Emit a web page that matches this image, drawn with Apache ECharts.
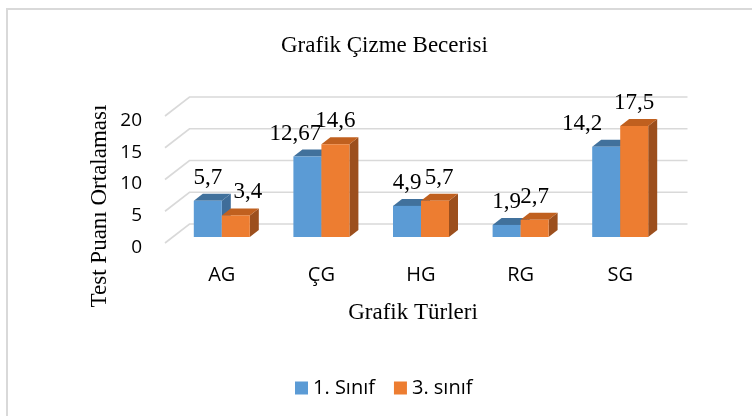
<!DOCTYPE html>
<html>
<head>
<meta charset="utf-8">
<title>Grafik Çizme Becerisi</title>
<script src="https://cdn.jsdelivr.net/npm/echarts@6/dist/echarts.min.js"></script>
</head>
<body style="margin:0">
<div id="container" style="width:752px;height:416px"></div>
<script>
// data
var categories = ['AG', 'ÇG', 'HG', 'RG', 'SG'];
var sinif1 = [5.7, 12.67, 4.9, 1.9, 14.2];
var sinif3 = [3.4, 14.6, 5.7, 2.7, 17.5];
var yTicks = [0, 5, 10, 15, 20];

// excel nudged a few labels sideways so they don't collide
var nudge1 = [0, -12, 0, 0, -24];
var nudge3 = [12, 0, 4, 0, 0];

var serif = 'Liberation Serif, Times New Roman, serif';
var sans = 'Open Sans, Noto Sans, sans-serif';

var BAR_W = 28;
var DEPTH = [9, -7];          // bar depth
var BACK = [17.5, -13];        // back wall offset from bar plane
var FRONT = [-7, 6];           // front edge of the floor

function fmt(v) {
    return String(v).replace('.', ',');
}

function barRenderer(side, colors, nudge) {
    return function (params, api) {
        var i = api.value(0), v = api.value(1);
        var top = api.coord([i, v]);
        var base = api.coord([i, 0]);
        var x0 = side === 0 ? top[0] - BAR_W : top[0];
        var x1 = x0 + BAR_W;
        var yT = top[1], yB = base[1];
        var dx = DEPTH[0], dy = DEPTH[1];
        return {
            type: 'group',
            children: [
                {
                    type: 'polygon',
                    shape: { points: [[x1, yT], [x1 + dx, yT + dy], [x1 + dx, yB + dy], [x1, yB]] },
                    style: { fill: colors.side }
                },
                {
                    type: 'polygon',
                    shape: { points: [[x0, yT], [x0 + dx, yT + dy], [x1 + dx, yT + dy], [x1, yT]] },
                    style: { fill: colors.top }
                },
                {
                    type: 'rect',
                    shape: { x: x0, y: yT, width: BAR_W, height: yB - yT },
                    style: { fill: colors.front }
                },
                {
                    type: 'text',
                    x: (x0 + x1) / 2 + nudge[i],
                    y: yT - 23,
                    style: {
                        text: fmt(v),
                        align: 'center',
                        verticalAlign: 'middle',
                        fontSize: 23,
                        fontFamily: serif,
                        fill: '#000'
                    }
                }
            ]
        };
    };
}

function gridRenderer(params, api) {
    var v = api.value(1);
    var p = api.coord([0, v]);
    var half = api.size([1, 0])[0] / 2;
    var left = p[0] - half;
    var right = api.coord([categories.length - 1, v])[0] + half;
    var y = p[1];
    return {
        type: 'polyline',
        shape: { points: [[left + FRONT[0], y + FRONT[1]], [left + BACK[0], y + BACK[1]], [right + BACK[0], y + BACK[1]]] },
        style: { stroke: '#d9d9d9', lineWidth: 1.6, fill: null }
    };
}

var myChart = echarts.init(document.getElementById('container'), null, { renderer: 'canvas' });

var option = {
    backgroundColor: '#fff',
    animation: false,
    textStyle: { fontFamily: serif },
    title: {
        text: 'Grafik Çizme Becerisi',
        left: 276,
        top: 29,
        textStyle: { fontFamily: serif, fontSize: 23, fontWeight: 'normal', color: '#000' }
    },
    legend: {
        data: ['1. Sınıf', '3. sınıf'],
        left: 290,
        top: 373,
        icon: 'rect',
        itemWidth: 13,
        itemHeight: 13,
        itemGap: 19,
        textStyle: { fontFamily: sans, fontSize: 20, color: '#000' }
    },
    grid: { left: 172, width: 498, top: 110, height: 127 },
    xAxis: {
        type: 'category',
        data: categories,
        axisLine: { show: false },
        axisTick: { show: false },
        axisLabel: { margin: 28, fontFamily: sans, fontSize: 20, color: '#000' }
    },
    yAxis: {
        type: 'value',
        min: 0,
        max: 20,
        interval: 5,
        splitLine: { show: false },
        axisLine: { show: false },
        axisTick: { show: false },
        axisLabel: { margin: 30, verticalAlign: 'top', lineHeight: 21, fontFamily: sans, fontSize: 19, color: '#000' }
    },
    graphic: [
        {
            type: 'rect',
            shape: { x: 7, y: 9, width: 900, height: 600 },
            style: { fill: null, stroke: '#d9d9d9', lineWidth: 2 },
            silent: true
        },
        {
            type: 'text',
            x: 413,
            y: 313,
            style: { text: 'Grafik Türleri', align: 'center', verticalAlign: 'middle', fontSize: 23, fontFamily: serif, fill: '#000' }
        },
        {
            type: 'text',
            x: 100,
            y: 206,
            rotation: Math.PI / 2,
            style: { text: 'Test Puanı Ortalaması', align: 'center', verticalAlign: 'middle', fontSize: 23, fontFamily: serif, fill: '#000' }
        }
    ],
    series: [
        {
            type: 'custom',
            silent: true,
            z: 1,
            renderItem: gridRenderer,
            data: yTicks.map(function (t) { return [0, t]; })
        },
        {
            name: '1. Sınıf',
            type: 'custom',
            z: 2,
            itemStyle: { color: '#5b9bd5' },
            renderItem: barRenderer(0, { front: '#5b9bd5', top: '#41719c', side: '#3f6d99' }, nudge1),
            data: sinif1.map(function (v, i) { return [i, v]; })
        },
        {
            name: '3. sınıf',
            type: 'custom',
            z: 3,
            itemStyle: { color: '#ed7d31' },
            renderItem: barRenderer(1, { front: '#ed7d31', top: '#c0601f', side: '#9c4f1d' }, nudge3),
            data: sinif3.map(function (v, i) { return [i, v]; })
        }
    ]
};
myChart.setOption(option);
</script>
</body>
</html>
